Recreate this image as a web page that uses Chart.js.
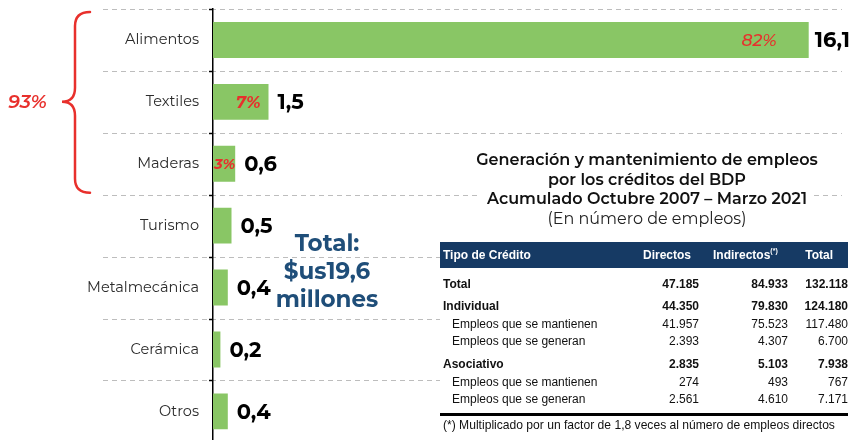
<!DOCTYPE html>
<html><head><meta charset="utf-8">
<script src="https://cdn.jsdelivr.net/npm/chart.js@4.4.1/dist/chart.umd.min.js"></script>
<style>
html,body{margin:0;padding:0;background:#fff;overflow:hidden;}
#wrap{position:relative;width:852px;height:440px;overflow:hidden;background:#fff;}
#box{position:absolute;left:0;top:0;width:852px;height:451px;}
.abs{position:absolute;white-space:nowrap;}
.mont{font-family:'Montserrat','Inter',sans-serif;}
.arial{font-family:'Liberation Sans',Arial,sans-serif;font-size:12px;color:#111;}
</style></head>
<body>
<div id="wrap">
  <div id="box"><canvas id="cv"></canvas></div>
  <div id="overlay"></div>
</div>
<script>
// ---------- data ----------
const categories = ['Alimentos','Textiles','Maderas','Turismo','Metalmecánica','Cerámica','Otros'];
const montos = [16.1, 1.5, 0.6, 0.5, 0.4, 0.2, 0.4];
const montoLabels = ['16,1','1,5','0,6','0,5','0,4','0,2','0,4'];
const participacion = ['82%','7%','3%',null,null,null,null];
const grupoLabel = '93%';
const totalLines = ['Total:','$us19,6','millones'];
const xMax = 17;

const tablaTitulo = ['Generación  y mantenimiento  de empleos','por los créditos del  BDP','Acumulado Octubre 2007 – Marzo 2021'];
const tablaSubtitulo = '(En número de empleos)';
const tablaHeader = ['Tipo de Crédito','Directos','Indirectos','Total'];
const filas = ['Total','Individual','Empleos que se mantienen','Empleos que se generan','Asociativo','Empleos que se mantienen','Empleos que se generan'];
const directos = ['47.185','44.350','41.957','2.393','2.835','274','2.561'];
const indirectos = ['84.933','79.830','75.523','4.307','5.103','493','4.610'];
const totales = ['132.118','124.180','117.480','6.700','7.938','767','7.171'];
const filaNegrita = [true,true,false,false,true,false,false];
const nota = '(*) Multiplicado por un factor de 1,8 veces al número de empleos directos';

// ---------- styles ----------
const GREEN = '#89C665';
const RED = '#E8302C';
const FONT = "'Montserrat','Inter',sans-serif";
const pctStyle = [
  {align:'right', ref:'end', dx:-32, font:'italic 500 17px '+FONT},
  {align:'right', ref:'end', dx:-8, font:'italic 700 16.5px '+FONT},
  {align:'left', ref:'start', dx:1, font:'italic 700 14.5px '+FONT},
];

const dashedGrid = {
  id:'dashedGrid',
  beforeDraw(chart){
    const y = chart.scales.y, ctx = chart.ctx;
    const n = categories.length, h = y.height / n;
    ctx.save();
    ctx.strokeStyle = '#BDBDBD'; ctx.lineWidth = 1.2; ctx.setLineDash([5,4]);
    for (let i=0;i<=n;i++){
      const yy = Math.round(y.top + i*h) + 0.5;
      ctx.beginPath(); ctx.moveTo(103, yy); ctx.lineTo(chart.chartArea.right, yy); ctx.stroke();
    }
    ctx.restore();
  },
  afterDraw(chart){
    const y = chart.scales.y, ctx = chart.ctx;
    const n = categories.length, h = y.height / n, x0 = chart.chartArea.left;
    ctx.save();
    ctx.strokeStyle = '#000'; ctx.lineWidth = 1.5;
    for (let i=0;i<=n;i++){
      const yy = Math.round(y.top + i*h) + 0.5;
      ctx.beginPath(); ctx.moveTo(x0-4, yy); ctx.lineTo(x0, yy); ctx.stroke();
    }
    ctx.restore();
  }
};

const labelsPlugin = {
  id:'barLabels',
  afterDatasetsDraw(chart){
    const ctx = chart.ctx, meta = chart.getDatasetMeta(0);
    ctx.save();
    ctx.textBaseline = 'middle';
    meta.data.forEach((el,i)=>{
      ctx.fillStyle = '#000'; ctx.textAlign='left';
      ctx.font = '700 21px '+FONT;
      ctx.fillText(montoLabels[i], el.x + (i===0?6:9), el.y+1);
      if (participacion[i]){
        const s = pctStyle[i];
        ctx.fillStyle = RED; ctx.font = s.font; ctx.textAlign = s.align;
        const base = s.ref==='end' ? el.x : el.base;
        ctx.fillText(participacion[i], base + s.dx, el.y+1);
      }
    });
    ctx.restore();
  }
};

const bracePlugin = {
  id:'brace',
  afterDraw(chart){
    const y = chart.scales.y, ctx = chart.ctx;
    const h = y.height / categories.length;
    const y1 = y.top + 3, y2 = y.top + 3*h - 2, ym = y.getPixelForValue(1);
    const xt = 90, xv = 75, xp = 62, r = 14;
    ctx.save();
    ctx.strokeStyle = RED; ctx.lineWidth = 2.5; ctx.lineCap='round';
    ctx.beginPath();
    ctx.moveTo(xt, y1);
    ctx.quadraticCurveTo(xv, y1, xv, y1 + r);
    ctx.lineTo(xv, ym - r);
    ctx.quadraticCurveTo(xv, ym, xp, ym);
    ctx.quadraticCurveTo(xv, ym, xv, ym + r);
    ctx.lineTo(xv, y2 - r);
    ctx.quadraticCurveTo(xv, y2, xt, y2);
    ctx.stroke();
    ctx.fillStyle = RED; ctx.font = 'italic 600 19px '+FONT;
    ctx.textAlign='left'; ctx.textBaseline='middle';
    ctx.fillText(grupoLabel, 8, ym+1);
    ctx.restore();
  }
};

new Chart(document.getElementById('cv'), {
  type:'bar',
  data:{labels:categories, datasets:[{data:montos, backgroundColor:GREEN, categoryPercentage:1, barPercentage:0.58}]},
  options:{
    indexAxis:'y', animation:false, responsive:true, maintainAspectRatio:false,
    layout:{padding:{top:9,right:10,left:0,bottom:0}},
    plugins:{legend:{display:false}, tooltip:{enabled:false}},
    scales:{
      x:{display:false, min:0, max:xMax},
      y:{
        grid:{drawOnChartArea:false, tickColor:'rgba(0,0,0,0)', tickLength:14, offset:true},
        border:{color:'#000', width:1.5},
        ticks:{color:'#2b2b2b', font:{family:FONT, size:14.5}, padding:0},
        afterFit(s){ s.width = 213; }
      }
    }
  },
  plugins:[dashedGrid, labelsPlugin, bracePlugin]
});

// ---------- overlays ----------
const ov = document.getElementById('overlay');
function add(html, style, cls){
  const d = document.createElement('div');
  d.className = 'abs ' + (cls||'');
  d.style.cssText = style; d.innerHTML = html; ov.appendChild(d); return d;
}
// Total text
totalLines.forEach((t,i)=>{
  add(t, `left:227px;width:200px;text-align:center;top:${229+i*28}px;font-weight:700;font-size:23px;line-height:28px;color:#1F4E79;`, 'mont');
});
// table title (white background)
add('', 'left:478px;top:150px;width:334px;height:78px;background:#fff;');
tablaTitulo.forEach((t,i)=>{
  add(t, `left:447px;width:400px;text-align:center;top:${150+i*19.5}px;font-weight:600;font-size:16px;line-height:20px;color:#111;`, 'mont');
});
add(tablaSubtitulo, 'left:447px;width:400px;text-align:center;top:208.5px;font-weight:400;font-size:16px;line-height:20px;color:#222;', 'mont');
// table
add('', 'left:440px;top:242px;width:408px;height:198px;background:#fff;');
add('', 'left:440px;top:242px;width:408px;height:26px;background:#163A64;');
const hdrStyle = 'top:242px;height:26px;line-height:26px;color:#fff;font-weight:700;';
add(tablaHeader[0], 'left:443px;'+hdrStyle, 'arial');
add(tablaHeader[1], 'right:'+(852-691)+'px;'+hdrStyle, 'arial');
add(tablaHeader[2]+'<span style="font-size:7px;position:relative;top:-6px;">(*)</span>', 'left:713px;'+hdrStyle, 'arial');
add(tablaHeader[3], 'right:'+(852-833)+'px;'+hdrStyle, 'arial');
const rowY = [284,306,323.5,341,364,381.5,399];
filas.forEach((f,i)=>{
  const b = filaNegrita[i] ? 'font-weight:700;' : 'font-weight:400;';
  const top = `top:${rowY[i]-8}px;line-height:16px;`;
  add(f, `left:${filaNegrita[i]?443:452}px;`+top+b, 'arial');
  add(directos[i], `right:${852-699}px;`+top+b, 'arial');
  add(indirectos[i], `right:${852-788}px;`+top+b, 'arial');
  add(totales[i], `right:${852-848}px;`+top+b, 'arial');
});
add('', 'left:440px;top:413px;width:408px;height:3px;background:#000;');
add(nota, 'left:443px;top:417px;line-height:16px;font-size:12.1px;', 'arial');
</script>
</body></html>
